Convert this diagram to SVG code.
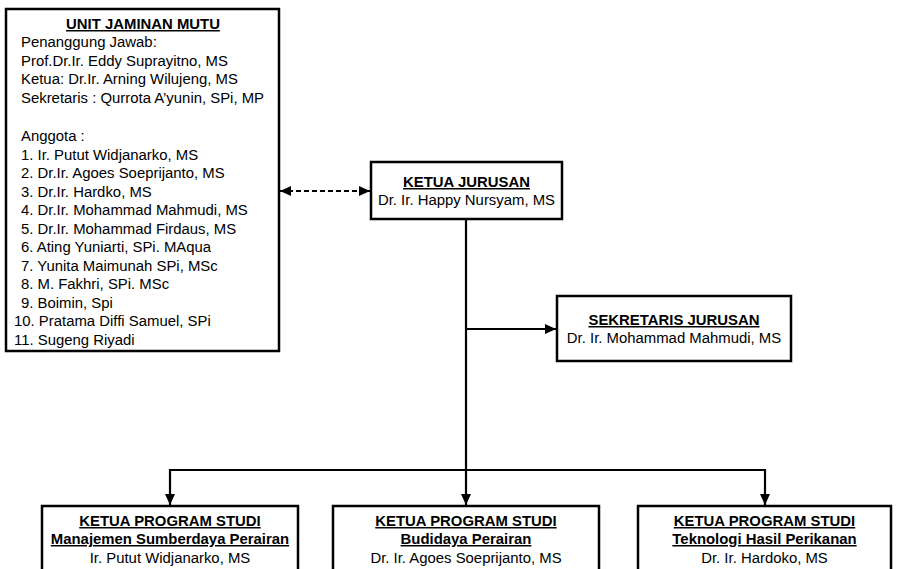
<svg xmlns="http://www.w3.org/2000/svg" width="899" height="569" viewBox="0 0 899 569">
<style>
text{font-family:"Liberation Sans",Arial,sans-serif;font-size:14.9px;fill:#000}
.t{font-weight:bold;text-decoration:underline}
.c{text-anchor:middle}
.box{fill:#fff;stroke:#000;stroke-width:2.5}
.ln{fill:none;stroke:#000;stroke-width:2.2}
.dash{stroke-dasharray:5 3}
</style>
<defs>
<marker id="ah" markerUnits="userSpaceOnUse" viewBox="0 0 11 10" refX="11" refY="5" markerWidth="11" markerHeight="10" orient="auto-start-reverse">
<path d="M0,0 L11,5 L0,10 z" fill="#000"/>
</marker>
</defs>
<g id="connectors">
<line class="ln dash" x1="280" y1="191" x2="370" y2="191" marker-start="url(#ah)" marker-end="url(#ah)"/>
<line class="ln" x1="466" y1="220" x2="466" y2="505" marker-end="url(#ah)"/>
<line class="ln" x1="466" y1="329" x2="556" y2="329" marker-end="url(#ah)"/>
<polyline class="ln" points="170,505 170,470 765,470 765,505" marker-start="url(#ah)" marker-end="url(#ah)"/>
</g>
<g id="ujm">
<rect class="box" x="6" y="9" width="273" height="342"/>
<text class="t c" x="143" y="29">UNIT JAMINAN MUTU</text>
<text x="21" y="47">Penanggung Jawab:</text>
<text x="21" y="66">Prof.Dr.Ir. Eddy Suprayitno, MS</text>
<text x="21" y="84">Ketua: Dr.Ir. Arning Wilujeng, MS</text>
<text x="21" y="103">Sekretaris : Qurrota A’yunin, SPi, MP</text>
<text x="21" y="141">Anggota :</text>
<text x="21" y="159.5">1. Ir. Putut Widjanarko, MS</text>
<text x="21" y="178">2. Dr.Ir. Agoes Soeprijanto, MS</text>
<text x="21" y="196.5">3. Dr.Ir. Hardko, MS</text>
<text x="21" y="215">4. Dr.Ir. Mohammad Mahmudi, MS</text>
<text x="21" y="233.5">5. Dr.Ir. Mohammad Firdaus, MS</text>
<text x="21" y="252">6. Ating Yuniarti, SPi. MAqua</text>
<text x="21" y="270.5">7. Yunita Maimunah SPi, MSc</text>
<text x="21" y="289">8. M. Fakhri, SPi. MSc</text>
<text x="21" y="307.5">9. Boimin, Spi</text>
<text x="14" y="326">10. Pratama Diffi Samuel, SPi</text>
<text x="14" y="344.5">11. Sugeng Riyadi</text>
</g>
<g id="ketua">
<rect class="box" x="371" y="162" width="191" height="57"/>
<text class="t c" x="466.5" y="187">KETUA JURUSAN</text>
<text class="c" x="466.5" y="205">Dr. Ir. Happy Nursyam, MS</text>
</g>
<g id="sekretaris">
<rect class="box" x="557" y="296" width="234" height="65"/>
<text class="t c" x="674" y="325">SEKRETARIS JURUSAN</text>
<text class="c" x="674" y="343">Dr. Ir. Mohammad Mahmudi, MS</text>
</g>
<g id="ps1">
<rect class="box" x="42" y="506" width="256" height="80"/>
<text class="t c" x="170" y="526">KETUA PROGRAM STUDI</text>
<text class="t c" x="170" y="544">Manajemen Sumberdaya Perairan</text>
<text class="c" x="170" y="563">Ir. Putut Widjanarko, MS</text>
</g>
<g id="ps2">
<rect class="box" x="333" y="506" width="266" height="80"/>
<text class="t c" x="466" y="526">KETUA PROGRAM STUDI</text>
<text class="t c" x="466" y="544">Budidaya Perairan</text>
<text class="c" x="466" y="563">Dr. Ir. Agoes Soeprijanto, MS</text>
</g>
<g id="ps3">
<rect class="box" x="638" y="506" width="253" height="80"/>
<text class="t c" x="764.5" y="526">KETUA PROGRAM STUDI</text>
<text class="t c" x="764.5" y="544">Teknologi Hasil Perikanan</text>
<text class="c" x="764.5" y="563">Dr. Ir. Hardoko, MS</text>
</g>
</svg>
